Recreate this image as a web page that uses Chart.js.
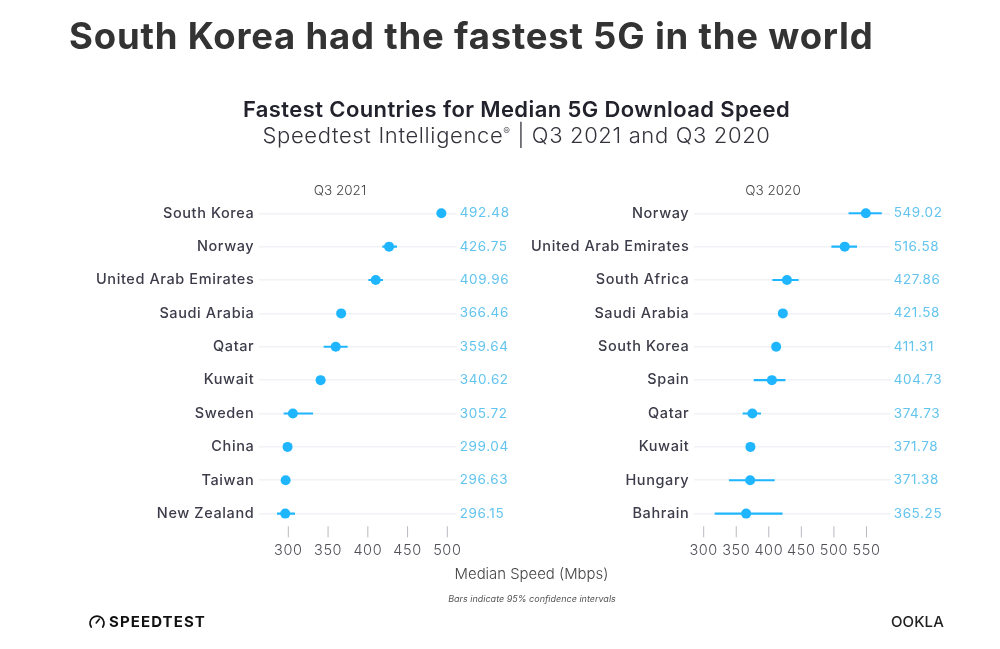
<!DOCTYPE html>
<html>
<head>
<meta charset="utf-8">
<script src="https://cdn.jsdelivr.net/npm/chart.js@4"></script>
<style>
  html, body { margin: 0; padding: 0; background: #fff; }
  body { position: relative; width: 1000px; height: 649px; overflow: hidden; font-family: Inter, sans-serif; }
  canvas { position: absolute; top: 0; }
  .txt { position: absolute; white-space: nowrap; line-height: 1; }
  .center { transform: translateX(-50%); }
</style>
</head>
<body>
<canvas id="chart2021" style="left:0" width="520" height="649"></canvas>
<canvas id="chart2020" style="left:520px" width="480" height="649"></canvas>

<div class="txt" style="left:69px;top:18px;font-size:36.5px;font-weight:700;color:#333;letter-spacing:.8px">South Korea had the fastest 5G in the world</div>
<div class="txt center" style="left:516.5px;top:98px;font-size:22px;font-weight:600;color:#22222c;letter-spacing:.4px">Fastest Countries for Median 5G Download Speed</div>
<div class="txt center" style="left:516.5px;top:124px;font-size:22px;font-weight:300;color:#33333c;letter-spacing:.64px">Speedtest Intelligence<sup style="font-size:10px;line-height:0">®</sup> | Q3 2021 and Q3 2020</div>
<div class="txt center" style="left:340px;top:184px;font-size:13.5px;font-weight:300;color:#444">Q3 2021</div>
<div class="txt center" style="left:773px;top:184px;font-size:13.5px;font-weight:300;color:#444">Q3 2020</div>
<div class="txt center" style="left:531.5px;top:567px;font-size:14.9px;font-weight:300;color:#444">Median Speed (Mbps)</div>
<div class="txt center" style="left:532px;top:594px;font-size:9px;font-style:italic;color:#555">Bars indicate 95% confidence intervals</div>

<svg style="position:absolute;left:88px;top:613px" width="18" height="16" viewBox="0 0 18 16">
  <path d="M3.2 14 A7 7 0 1 1 14.8 14" fill="none" stroke="#111" stroke-width="1.7" stroke-linecap="round"/>
  <path d="M8.2 10 L11.4 6" fill="none" stroke="#111" stroke-width="1.6" stroke-linecap="round"/>
</svg>
<div class="txt" style="left:109px;top:614px;font-size:15px;font-weight:700;color:#111;letter-spacing:1.1px">SPEEDTEST</div>
<div class="txt" style="left:891px;top:614px;font-size:15px;font-weight:500;color:#222;letter-spacing:.1px">OOKLA</div>

<script>
const countries2021 = ["South Korea", "Norway", "United Arab Emirates", "Saudi Arabia", "Qatar", "Kuwait", "Sweden", "China", "Taiwan", "New Zealand"];
const speeds2021 = [492.48, 426.75, 409.96, 366.46, 359.64, 340.62, 305.72, 299.04, 296.63, 296.15];
const low2021 = [489, 418.7, 401.1, 365, 344.9, 339, 294.6, 297.5, 295, 286.2];
const high2021 = [496, 436.3, 418.7, 368, 374.2, 342, 330.7, 300.5, 298, 308];
const ticks2021 = [300, 350, 400, 450, 500];

const countries2020 = ["Norway", "United Arab Emirates", "South Africa", "Saudi Arabia", "South Korea", "Spain", "Qatar", "Kuwait", "Hungary", "Bahrain"];
const speeds2020 = [549.02, 516.58, 427.86, 421.58, 411.31, 404.73, 374.73, 371.78, 371.38, 365.25];
const low2020 = [523, 496.6, 406, 420, 410, 377.3, 360.4, 370, 339.4, 317.4];
const high2020 = [573, 535, 445.3, 423, 413, 425, 387.5, 373, 408.5, 420.7];
const ticks2020 = [300, 350, 400, 450, 500, 550];

const DOT = "#1fb6ff";
const VALUE = "#63c4ee";
const FONT = "Inter, sans-serif";

// the original font is wider than anything installed, so space the letters out
const wideText = {
  id: "wideText",
  beforeDraw(chart) {
    chart.ctx.letterSpacing = "0.6px";
  }
};

// tick marks start a little inside the plot area, so the built in ones won't do
const tickMarks = {
  id: "tickMarks",
  afterDraw(chart) {
    const { ctx, chartArea, scales } = chart;
    ctx.save();
    ctx.strokeStyle = "#b9b9c0";
    ctx.lineWidth = 1;
    scales.x.ticks.forEach(t => {
      const px = scales.x.getPixelForValue(t.value);
      ctx.beginPath();
      ctx.moveTo(px, chartArea.bottom - 4);
      ctx.lineTo(px, chartArea.bottom + 7);
      ctx.stroke();
    });
    ctx.restore();
  }
};

function makePanel(id, countries, speeds, low, high, tickVals, xMin, xMax, leftW, rightW) {
  new Chart(document.getElementById(id), {
    type: "bar",
    plugins: [wideText, tickMarks],
    data: {
      labels: countries,
      datasets: [
        {
          type: "line",
          indexAxis: "y",
          data: speeds,
          showLine: false,
          pointRadius: 5,
          pointBorderWidth: 0,
          pointBackgroundColor: DOT,
          order: 0
        },
        {
          type: "bar",
          data: low.map((v, i) => [v, high[i]]),
          backgroundColor: DOT,
          barThickness: 1.5,
          order: 1
        }
      ]
    },
    options: {
      indexAxis: "y",
      responsive: false,
      animation: false,
      layout: { padding: { top: 196.6, bottom: 58.7 } },
      plugins: { legend: { display: false }, tooltip: { enabled: false } },
      scales: {
        x: {
          type: "linear",
          min: xMin,
          max: xMax,
          afterBuildTicks: s => { s.ticks = tickVals.map(v => ({ value: v })); },
          afterFit: s => { s.height = 60; },
          grid: { display: false, drawTicks: false },
          border: { display: false },
          ticks: { padding: 11.5, maxRotation: 0, autoSkip: false, color: "#4f4f58", font: { family: FONT, size: 14.5, weight: 300 } }
        },
        y: {
          offset: true,
          afterFit: s => { s.width = leftW; },
          grid: { offset: false, color: "#f0f2f6", lineWidth: 1.5, drawTicks: false },
          border: { display: false },
          ticks: { padding: 5, autoSkip: false, color: "#3c3c4a", font: { family: FONT, size: 14.5, weight: 500 } }
        },
        y2: {
          type: "category",
          position: "right",
          labels: speeds.map(v => v.toFixed(2)),
          offset: true,
          afterFit: s => { s.width = rightW; },
          grid: { display: false, drawTicks: false },
          border: { display: false },
          ticks: { padding: 3, autoSkip: false, color: VALUE, font: { family: FONT, size: 13.5, weight: 400 } }
        }
      }
    }
  });
}

makePanel("chart2021", countries2021, speeds2021, low2021, high2021, ticks2021, 263.5, 511.8, 259.3, 63.3);
makePanel("chart2020", countries2020, speeds2020, low2020, high2020, ticks2020, 285.6, 587.2, 174.3, 109.3);
</script>
</body>
</html>
